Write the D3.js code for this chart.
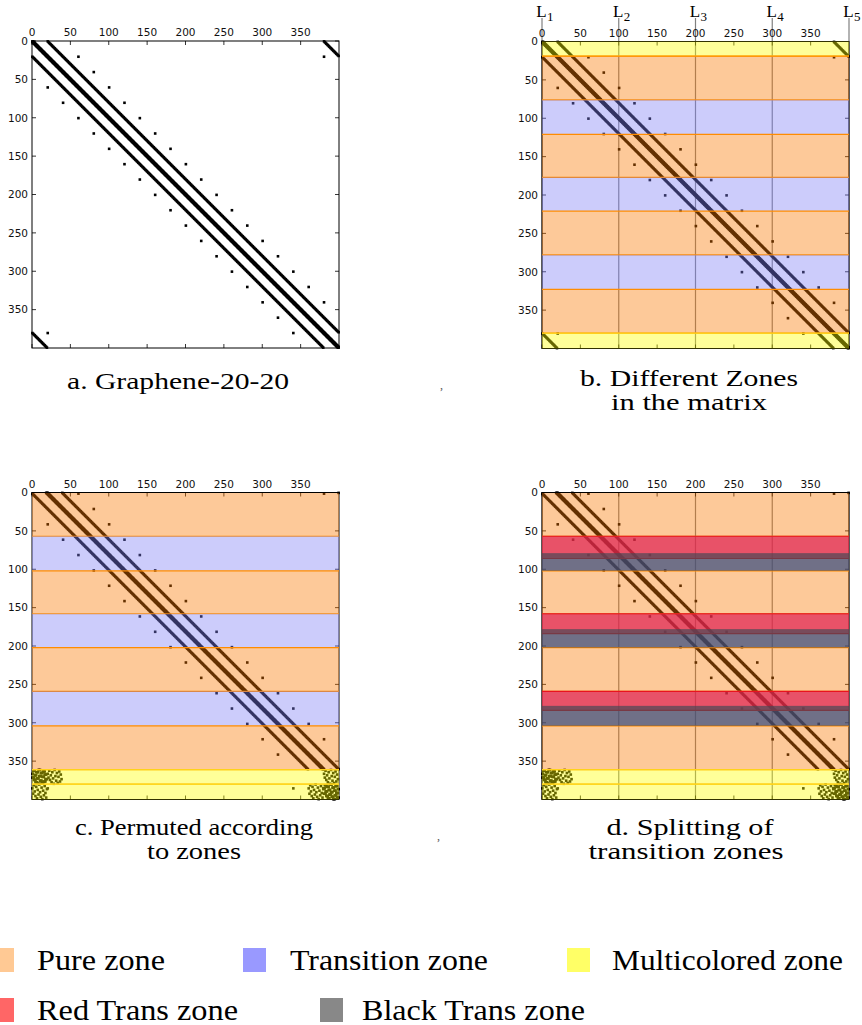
<!DOCTYPE html>
<html>
<head>
<meta charset="utf-8">
<script src="https://cdn.jsdelivr.net/npm/d3@7"></script>
<style>
  body { margin: 0; background: #fff; }
  svg { display: block; }
</style>
</head>
<body>
<svg id="fig" width="862" height="1025"></svg>
<script>
// ---- Matrix structure: Graphene-20-20, 400 x 400 ----
const N = 400;
const tickValues = [0, 50, 100, 150, 200, 250, 300, 350];
const mainOffsets = [-1, 0, 1];           // diagonal band
const bandOffsets = [20, -20];            // periodic side bands
const couplingRows = [20, 40, 60, 80, 100, 120, 140, 160, 180, 200, 220, 240, 260, 280, 300, 320, 340, 380];
const couplingOffset = 40;                // isolated couplings (r, r+40) and symmetric

// ---- Zones (row boundaries) ----
const zoneEdgesB = [0, 19, 76, 121, 177, 221, 278, 323, 380, 400];
const zoneTypesB = ["multi", "pure", "trans", "pure", "trans", "pure", "trans", "pure", "multi"];
const zoneEdgesC = [0, 57, 102, 158, 202, 259, 304, 361, 380, 400];
const zoneTypesC = ["pure", "trans", "pure", "trans", "pure", "trans", "pure", "multi", "multi"];
const redTransStarts = [57, 158, 259];
const redTransEnds = [86, 184, 284];
const blackTransStarts = [79, 178, 278];
const blackTransEnds = [102, 202, 304];

// ---- Row permutation used in panels c and d ----
const permShift = 19;
const multiRowsTop = [9, 2, 15, 6, 12, 0, 17, 4, 10, 14, 1, 7, 18, 3, 11, 16, 5, 13, 8];
const multiRowsBottom = [389, 382, 396, 385, 392, 380, 399, 387, 394, 383, 390, 397, 381, 388, 395, 384, 391, 398, 386, 393];

// ---- Guide lines L1..L5 ----
const guideCols = [0, 100, 200, 300, 400];
const guideLabels = ["1", "2", "3", "4", "5"];

// ---- Captions and legend ----
const captions = [
  { lines: ["a.  Graphene-20-20"], widths: [222], cx: [178], y: 389 },
  { lines: ["b. Different Zones", "in the matrix"], widths: [218, 156], cx: [689, 689], y: 386 },
  { lines: ["c. Permuted according", "to zones"], widths: [238, 94], cx: [194, 194], y: 835 },
  { lines: ["d. Splitting of", "transition zones"], widths: [167, 195], cx: [690, 686], y: 835 }
];
const legendNames = ["Pure zone", "Transition zone", "Multicolored zone", "Red Trans zone", "Black Trans zone"];
const legendWidths = [128, 198, 231, 201, 223];
const legendColors = ["#ffc994", "#9999ff", "#ffff66", "#ff6666", "#888888"];
const legendX = [-9, 243, 567, -9, 320];
const legendTextX = [37, 290, 612, 37, 362];
const legendRow = [0, 0, 0, 1, 1];

const zoneStyle = {
  pure:  { fill: "#fa7800", opacity: 0.4, edge: "#ff8c00" },
  trans: { fill: "#8080f5", opacity: 0.4, edge: null },
  multi: { fill: "#ffff00", opacity: 0.4, edge: "#ffd21a" },
  red:   { fill: "#f41e29", opacity: 0.7, edge: "#e8141e" },
  black: { fill: "#494956", opacity: 0.7, edge: null }
};

// nonzero entries
const entries = [];
for (let r = 0; r < N; r++) {
  mainOffsets.forEach(o => {
    const c = r + o;
    if (c >= 0 && c < N) entries.push([r, c]);
  });
  bandOffsets.forEach(o => entries.push([r, (r + o + N) % N]));
}
couplingRows.forEach(r => {
  const c = (r + couplingOffset) % N;
  entries.push([r, c]);
  entries.push([c, r]);
});

const identityRow = r => r;
const permutedRow = r => {
  if (r >= permShift && r < 380) return r - permShift;
  if (r < permShift) return 361 + multiRowsTop.indexOf(r);
  return 380 + multiRowsBottom.indexOf(r);
};

const SIZE = 307;
const panels = [
  { left: 32,  top: 41,    rowMap: identityRow, zones: null },
  { left: 542, top: 41.5,  rowMap: identityRow, zones: [zoneEdgesB, zoneTypesB], guides: true, labels: true },
  { left: 32,  top: 492.5, rowMap: permutedRow, zones: [zoneEdgesC, zoneTypesC], topSpine: true },
  { left: 542, top: 492.5, rowMap: permutedRow, zones: [zoneEdgesC, zoneTypesC], split: true, guides: true, topSpine: true }
];

const svg = d3.select("#fig");

panels.forEach(p => {
  const x = d3.scaleLinear().domain([0, N]).range([p.left, p.left + SIZE]);
  const y = d3.scaleLinear().domain([0, N]).range([p.top, p.top + SIZE]);
  const g = svg.append("g");

  // guide lines (drawn first so zone colours tint them)
  if (p.guides) {
    g.selectAll("line.guide").data(guideCols).join("line")
      .attr("x1", d => x(d)).attr("x2", d => x(d))
      .attr("y1", p.labels ? 18 : y(0)).attr("y2", y(N))
      .attr("stroke", "#808080").attr("stroke-width", 1.2);
  }
  if (p.labels) {
    guideCols.forEach((c, i) => {
      g.append("text").attr("x", x(c) - 0.5).attr("y", 17)
        .attr("text-anchor", "middle")
        .attr("font-family", "Liberation Serif, serif").attr("font-size", 17)
        .text("L");
      g.append("text").attr("x", x(c) + 5).attr("y", 21)
        .attr("font-family", "Liberation Serif, serif").attr("font-size", 13)
        .text(guideLabels[i]);
    });
  }

  // spines
  g.append("rect").attr("x", x(0)).attr("y", y(0)).attr("width", SIZE).attr("height", SIZE)
    .attr("fill", "none").attr("stroke", "#000").attr("stroke-width", 1);

  // inward ticks
  const tk = 4;
  tickValues.forEach(t => {
    g.append("line").attr("x1", x(t)).attr("x2", x(t)).attr("y1", y(0)).attr("y2", y(0) + tk).attr("stroke", "#000").attr("stroke-width", 0.8);
    g.append("line").attr("x1", x(t)).attr("x2", x(t)).attr("y1", y(N)).attr("y2", y(N) - tk).attr("stroke", "#000").attr("stroke-width", 0.8);
    g.append("line").attr("y1", y(t)).attr("y2", y(t)).attr("x1", x(0)).attr("x2", x(0) + tk).attr("stroke", "#000").attr("stroke-width", 0.8);
    g.append("line").attr("y1", y(t)).attr("y2", y(t)).attr("x1", x(N)).attr("x2", x(N) - tk).attr("stroke", "#000").attr("stroke-width", 0.8);
  });

  // tick labels
  g.selectAll("text.xt").data(tickValues).join("text")
    .attr("x", d => x(d)).attr("y", y(0) - 5)
    .attr("text-anchor", "middle")
    .attr("font-family", "DejaVu Sans, sans-serif").attr("font-size", 10.5).attr("fill", "#111")
    .text(d => d);
  g.selectAll("text.yt").data(tickValues).join("text")
    .attr("x", x(0) - 4).attr("y", d => y(d)).attr("dy", "0.36em")
    .attr("text-anchor", "end")
    .attr("font-family", "DejaVu Sans, sans-serif").attr("font-size", 10.5).attr("fill", "#111")
    .text(d => d);

  // nonzero pattern
  const m = 2.6;
  g.append("g").selectAll("rect").data(entries).join("rect")
    .attr("x", d => x(d[1] + 0.5) - m / 2)
    .attr("y", d => y(p.rowMap(d[0]) + 0.5) - m / 2)
    .attr("width", m).attr("height", m)
    .attr("fill", "#000");

  // zone overlays
  const drawZone = (start, end, type) => {
    const s = zoneStyle[type];
    g.append("rect").attr("x", x(0)).attr("y", y(start)).attr("width", SIZE).attr("height", y(end) - y(start))
      .attr("fill", s.fill).attr("fill-opacity", s.opacity);
    if (s.edge) {
      [start, end].forEach(v => {
        if (v === 0 || v === N) return;
        g.append("line").attr("x1", x(0)).attr("x2", x(N)).attr("y1", y(v)).attr("y2", y(v))
          .attr("stroke", s.edge).attr("stroke-width", 1.2);
      });
    }
  };
  if (p.zones) {
    const [edges, types] = p.zones;
    types.forEach((t, i) => drawZone(edges[i], edges[i + 1], t));
  }
  if (p.split) {
    redTransStarts.forEach((s, i) => drawZone(s, redTransEnds[i], "red"));
    blackTransStarts.forEach((s, i) => drawZone(s, blackTransEnds[i], "black"));
  }
  if (p.topSpine) {
    g.append("line").attr("x1", x(0)).attr("x2", x(N)).attr("y1", y(0)).attr("y2", y(0))
      .attr("stroke", "#000").attr("stroke-width", 1.2);
  }
});

// captions
captions.forEach(c => {
  c.lines.forEach((t, i) => {
    svg.append("text").attr("x", c.cx[i]).attr("y", c.y + i * 24)
      .attr("text-anchor", "middle")
      .attr("font-family", "Liberation Serif, serif").attr("font-size", 24)
      .attr("textLength", c.widths[i]).attr("lengthAdjust", "spacingAndGlyphs")
      .text(t);
  });
});
// small separator marks between caption columns
[[440, 389], [437, 840]].forEach(([mx, my]) => {
  svg.append("text").attr("x", mx).attr("y", my)
    .attr("font-family", "Liberation Serif, serif").attr("font-size", 12).attr("fill", "#555")
    .text(",");
});

// legend
legendNames.forEach((name, i) => {
  const yTop = 948 + legendRow[i] * 50;
  svg.append("rect").attr("x", legendX[i]).attr("y", yTop).attr("width", 23).attr("height", 24)
    .attr("fill", legendColors[i]);
  svg.append("text").attr("x", legendTextX[i]).attr("y", yTop + 22)
    .attr("font-family", "Liberation Serif, serif").attr("font-size", 29)
    .attr("textLength", legendWidths[i]).attr("lengthAdjust", "spacingAndGlyphs")
    .text(name);
});
</script>
</body>
</html>
